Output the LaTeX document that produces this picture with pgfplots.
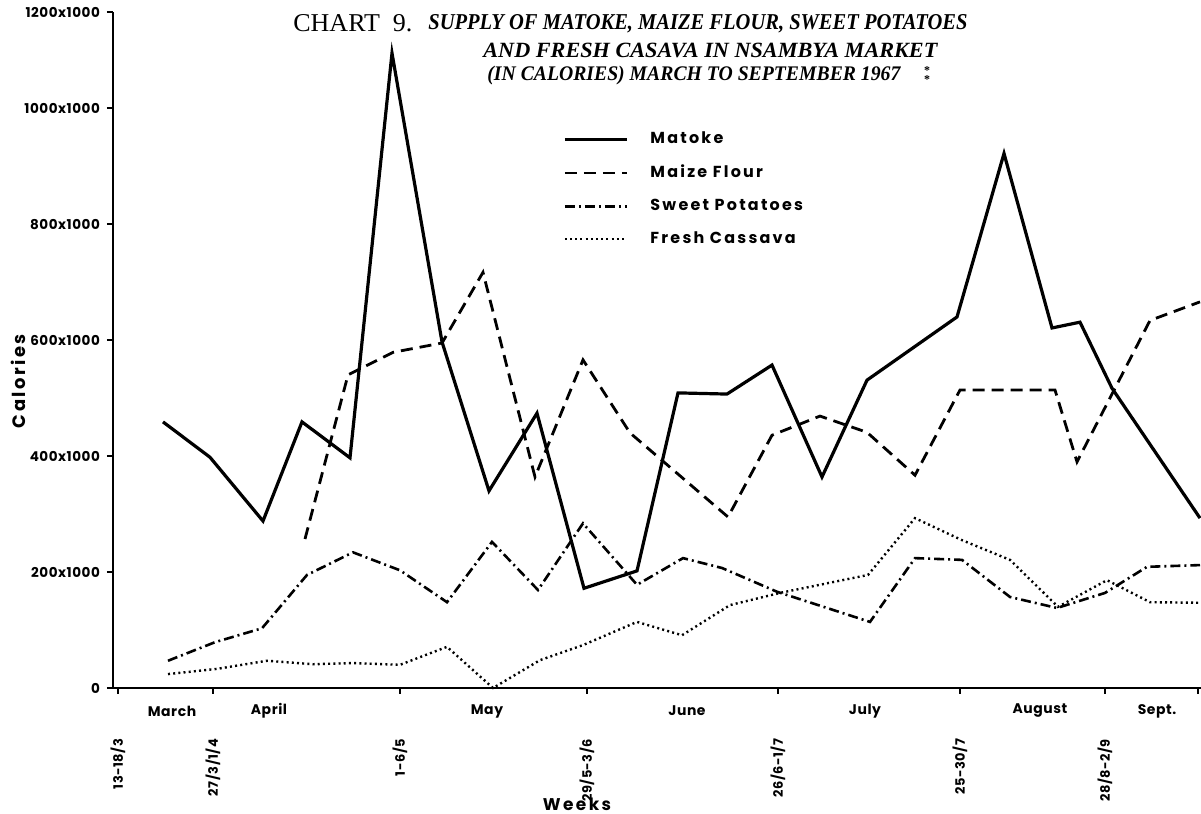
\documentclass[border=0pt]{standalone}
\usepackage{pgfplots}
\pgfplotsset{compat=1.18}
\usepackage{fontspec}
\setmainfont{Liberation Serif}
\newfontfamily\lab{Poppins}[LetterSpace=4]
\newfontfamily\labw{Poppins}[LetterSpace=14]

\pgfplotstableread{
x y
163 459
210 398
263 288
302 459
350 397
392 1095
442 597
489 340
537 474
584 172
637 202
678 509
727 507
772 557
822 364
867 531
957 640
1004 922
1052 621
1080 631
1112 517
1200 293
}\matoke
\pgfplotstableread{
x y
305 257
348 540
393 579
442 595
483 717
535 364
583 566
630 440
728 295
772 436
820 469
867 441
915 367
960 514
1055 514
1077 390
1150 634
1200 666
}\maize
\pgfplotstableread{
x y
168 47
215 79
262 103
307 195
353 234
400 203
447 148
492 252
538 169
583 284
637 178
683 224
722 207
777 166
870 114
915 224
962 221
1010 157
1057 138
1105 164
1147 209
1200 212
}\sweet
\pgfplotstableread{
x y
168 24
217 33
267 47
313 41
353 43
400 40
447 71
493 0
540 48
583 74
637 114
682 91
730 143
780 164
868 195
915 293
962 255
1010 221
1058 140
1107 186
1150 148
1200 147
}\cassava

\begin{document}
\begin{tikzpicture}
\path[use as bounding box] (-56.5bp,-63bp) rectangle (544bp,344bp);
\begin{axis}[
  at={(0,0)}, anchor=south west,
  scale only axis, width=544bp, height=338bp,
  xmin=113, xmax=1201, ymin=0, ymax=1166,
  axis x line*=bottom, axis y line*=left,
  axis line style={line width=1.4bp,-},
  tick align=outside, major tick length=3bp,
  tick style={line width=1bp, black},
  xtick={118,213,400,587,778,960,1105,1198},
  xticklabels={13-18/3,27/3/1/4,1-6/5,29/5-3/6,26/6-1/7,25-30/7,28/8-2/9,},
  xticklabel style={rotate=90, anchor=east, font=\lab\bfseries\fontsize{6.5}{7}\selectfont},
  xticklabel shift=19bp,
  ytick={0,200,400,600,800,1000,1166},
  yticklabels={0,200x1000,400x1000,600x1000,800x1000,1000x1000,1200x1000},
  yticklabel style={font=\lab\bfseries\fontsize{6.8}{7}\selectfont},
  xlabel={Weeks},
  xlabel style={font=\labw\bfseries\fontsize{8.5}{9}\selectfont, at={(axis description cs:0.4265,-0.1716)}, anchor=center},
  ylabel={Calories},
  ylabel style={font=\labw\bfseries\fontsize{9}{10}\selectfont, at={(axis description cs:-0.0873,0.454)}, anchor=center},
  clip=false,
  legend image code/.code={\draw[#1] (0bp,0bp) -- (31bp,0bp);},
  legend style={draw=none, fill=none, at={(axis description cs:0.408,0.835)}, anchor=north west,
    font=\labw\bfseries\fontsize{8}{9}\selectfont, row sep=5.2bp,
    /tikz/every odd column/.append style={column sep=9bp}},
  legend cell align=left,
]
\addplot[black, line width=1.6bp] table {\matoke};
\addlegendentry{Matoke}
\addplot[black, line width=1.4bp, dash pattern=on 6bp off 3.5bp] table {\maize};
\addlegendentry{Maize Flour}
\addplot[black, line width=1.3bp, dash pattern=on 5bp off 2bp on 1bp off 2bp] table {\sweet};
\addlegendentry{Sweet Potatoes}
\addplot[black, line width=1.2bp, dash pattern=on 1bp off 1.6bp] table {\cassava};
\addlegendentry{Fresh Cassava}
\end{axis}
% month names
\begin{scope}[every node/.style={font=\lab\bfseries\fontsize{7}{8}\selectfont, anchor=center}]
\node at (29.5bp,-11.5bp) {March};
\node at (78bp,-11.5bp) {April};
\node at (187bp,-11.5bp) {May};
\node at (287bp,-11.5bp) {June};
\node at (376bp,-11.5bp) {July};
\node at (463.5bp,-11.5bp) {August};
\node at (522bp,-11.5bp) {Sept.};
\end{scope}
% title
\node[anchor=base west, inner sep=0pt] at (90bp,328bp) {\resizebox{59.5bp}{8.5bp}{CHART\ \ 9.}};
\node[anchor=base west, inner sep=0pt] at (157.5bp,329bp) {\resizebox{269.5bp}{7.5bp}{\bfseries\itshape SUPPLY OF MATOKE, MAIZE FLOUR, SWEET POTATOES}};
\node[anchor=base west, inner sep=0pt] at (185bp,315bp) {\resizebox{227bp}{7.2bp}{\bfseries\itshape AND FRESH CASAVA IN NSAMBYA MARKET}};
\node[anchor=base west, inner sep=0pt] at (187bp,303.5bp) {\resizebox{206.5bp}{7.2bp}{\bfseries\itshape (IN CALORIES) MARCH TO SEPTEMBER 1967}};
\node[anchor=base, inner sep=0pt, font=\bfseries\fontsize{6}{6}\selectfont] at (407bp,306.5bp) {*};
\node[anchor=base, inner sep=0pt, font=\bfseries\fontsize{6}{6}\selectfont] at (407bp,302bp) {*};
\end{tikzpicture}
\end{document}
